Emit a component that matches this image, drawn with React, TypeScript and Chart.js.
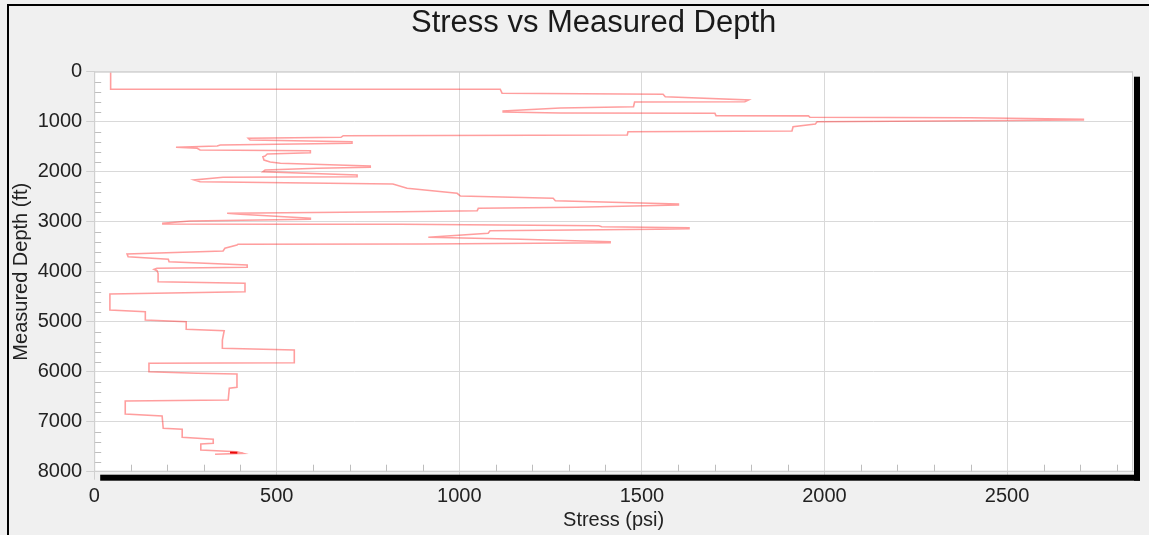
import React, { useEffect, useRef } from "react";
import { Chart, registerables } from "chart.js";

Chart.register(...registerables);

// Stress (psi) along the measured-depth path, in drawing order
const stress = [
  45, 45, 1112, 1117, 1558, 1564, 1792, 1782, 1480, 1477,
  1276, 1120, 1120, 1276, 1700, 1703, 1956, 1960, 2400, 2709,
  2709, 1980, 1975, 1914, 1911, 1462, 1460, 682, 676, 422,
  427, 706, 706, 345, 337, 224, 282, 290, 592, 592,
  474, 468, 462, 465, 482, 510, 756, 756, 611, 468,
  462, 720, 720, 353, 274, 290, 818, 857, 994, 1003,
  1257, 1263, 1600, 1600, 1322, 1052, 1049, 838, 364, 400,
  592, 592, 262, 188, 188, 510, 838, 1382, 1390, 1629,
  1629, 1542, 1084, 1079, 915, 1167, 1413, 1413, 901, 394,
  391, 358, 353, 90, 93, 203, 205, 419, 419, 172,
  164, 172, 175, 175, 413, 413, 413, 43, 43, 140,
  140, 252, 252, 356, 351, 351, 548, 548, 548, 150,
  150, 282, 391, 391, 370, 367, 85, 85, 186, 189,
  241, 241, 326, 326, 292, 292, 391, 408, 331,
];

// Measured depth (ft) for each stress value above
const depth = [
  0, 350, 350, 430, 452, 500, 566, 600, 606, 700,
  726, 786, 806, 826, 832, 880, 884, 910, 920, 950,
  966, 1000, 1046, 1100, 1185, 1200, 1266, 1280, 1312, 1332,
  1366, 1400, 1432, 1466, 1486, 1512, 1532, 1566, 1580, 1620,
  1646, 1686, 1700, 1766, 1806, 1832, 1886, 1912, 1932, 1966,
  2000, 2066, 2100, 2112, 2166, 2200, 2246, 2332, 2432, 2486,
  2532, 2580, 2646, 2666, 2712, 2732, 2780, 2800, 2832, 2852,
  2932, 2952, 2986, 3032, 3046, 3052, 3052, 3080, 3100, 3120,
  3140, 3152, 3180, 3232, 3312, 3352, 3400, 3420, 3446, 3450,
  3466, 3532, 3586, 3646, 3700, 3752, 3800, 3866, 3912, 3932,
  3952, 3980, 4032, 4200, 4232, 4380, 4400, 4446, 4766, 4800,
  4966, 5000, 5152, 5180, 5366, 5532, 5566, 5800, 5820, 5832,
  6000, 6032, 6046, 6312, 6332, 6566, 6586, 6846, 6886, 7132,
  7152, 7312, 7352, 7432, 7446, 7566, 7600, 7632, 7652,
];

// short darker end segment
const endStress = [372, 392];
const endDepth = [7614, 7620];

const xTicks = [0, 500, 1000, 1500, 2000, 2500];
const yTicks = [0, 1000, 2000, 3000, 4000, 5000, 6000, 7000, 8000];
const xMinorStep = 100;
const yMinorStep = 200;

const chartTitle = "Stress vs Measured Depth";
const xTitle = "Stress (psi)";
const yTitle = "Measured Depth (ft)";

const FONT = '"Liberation Sans", Arial, sans-serif';

const framePlugin = {
  id: "frame",
  beforeDraw(chart: any) {
    const { ctx, chartArea: a, width, height } = chart;
    ctx.save();
    ctx.fillStyle = "#f0f0f0";
    ctx.fillRect(0, 0, width, height);
    ctx.fillStyle = "#000";
    ctx.fillRect(7, 4, width - 7, 2);
    ctx.fillRect(7, 4, 2, height - 4);
    ctx.fillStyle = "#fff";
    ctx.fillRect(a.left, a.top, a.right - a.left, a.bottom - a.top);
    ctx.restore();
  },
  beforeDatasetsDraw(chart: any) {
    const { ctx, chartArea: a, scales } = chart;
    const xs = scales.x;
    const ys = scales.y;
    ctx.save();
    ctx.strokeStyle = "#bdbdbd";
    ctx.lineWidth = 1;
    ctx.beginPath();
    for (let v = yMinorStep; v < ys.max; v += yMinorStep) {
      if (yTicks.includes(v)) continue;
      const py = Math.round(ys.getPixelForValue(v)) + 0.5;
      ctx.moveTo(a.left, py);
      ctx.lineTo(a.left + 7, py);
    }
    for (let v = xMinorStep; v < xs.max; v += xMinorStep) {
      if (xTicks.includes(v)) continue;
      const px = Math.round(xs.getPixelForValue(v)) + 0.5;
      ctx.moveTo(px, a.bottom - 7);
      ctx.lineTo(px, a.bottom);
    }
    ctx.stroke();
    ctx.restore();
  },
  afterDraw(chart: any) {
    const { ctx, chartArea: a } = chart;
    ctx.save();
    ctx.strokeStyle = "#d0d0d0";
    ctx.lineWidth = 1;
    ctx.strokeRect(a.left + 0.5, a.top + 0.5, a.right - a.left - 1, a.bottom - a.top - 1);
    // drop shadow
    ctx.fillStyle = "#000";
    ctx.fillRect(a.right + 1, a.top + 5, 6, a.bottom - a.top + 4);
    ctx.fillRect(a.left + 6, a.bottom + 3, a.right - a.left + 1, 6);
    // main title
    ctx.fillStyle = "#1a1a1a";
    ctx.font = "31px " + FONT;
    ctx.textAlign = "center";
    ctx.textBaseline = "middle";
    ctx.fillText(chartTitle, (a.left + a.right) / 2 - 20, 23);
    ctx.restore();
  },
};

export default function App() {
  const ref = useRef<HTMLCanvasElement | null>(null);

  useEffect(() => {
    if (!ref.current) return;
    const points = stress.map((s, i) => ({ x: s, y: depth[i] }));
    const endPoints = endStress.map((s, i) => ({ x: s, y: endDepth[i] }));
    const chart = new Chart(ref.current, {
      type: "scatter",
      data: {
        datasets: [
          {
            data: points,
            showLine: true,
            borderColor: "rgba(255,40,40,0.45)",
            borderWidth: 1.6,
            pointRadius: 0,
            tension: 0,
          },
          {
            data: endPoints,
            showLine: true,
            borderColor: "#e00000",
            borderWidth: 2,
            pointRadius: 0,
            tension: 0,
          },
        ],
      },
      options: {
        animation: false,
        responsive: false,
        layout: { padding: { left: 0, right: 16, top: 71.7, bottom: 0 } },
        plugins: {
          legend: { display: false },
          tooltip: { enabled: false },
          title: { display: false },
        },
        scales: {
          x: {
            type: "linear",
            position: "bottom",
            min: 0,
            max: 2845,
            afterBuildTicks: (scale: any) => {
              scale.ticks = xTicks.map((v) => ({ value: v }));
            },
            afterFit: (scale: any) => {
              scale.height = 63.3;
            },
            grid: {
              color: "#d9d9d9",
              tickColor: "#d0d0d0",
              tickLength: 8,
            },
            border: { color: "#d0d0d0" },
            ticks: {
              color: "#222",
              padding: 5,
              font: { family: FONT, size: 20 },
              callback: (v: any) => String(v),
            },
            title: {
              display: true,
              text: xTitle,
              color: "#222",
              font: { family: FONT, size: 20 },
              padding: { top: 0, bottom: 3 },
            },
          },
          y: {
            type: "linear",
            position: "left",
            reverse: true,
            min: 0,
            max: 8000,
            afterBuildTicks: (scale: any) => {
              scale.ticks = yTicks.map((v) => ({ value: v }));
            },
            afterFit: (scale: any) => {
              scale.width = 94.2;
            },
            grid: {
              color: "#d9d9d9",
              tickColor: "#d0d0d0",
              tickLength: 8,
            },
            border: { color: "#d0d0d0" },
            ticks: {
              color: "#222",
              padding: 4,
              font: { family: FONT, size: 20 },
              callback: (v: any) => String(v),
            },
            title: {
              display: true,
              text: yTitle,
              color: "#222",
              font: { family: FONT, size: 20 },
              padding: { top: 9.7, bottom: 0 },
            },
          },
        },
      },
      plugins: [framePlugin],
    });
    return () => chart.destroy();
  }, []);

  return (
    <div style={{ position: "absolute", left: 0, top: 0, width: 1149, height: 535 }}>
      <canvas ref={ref} width={1149} height={535} style={{ display: "block" }} />
    </div>
  );
}
